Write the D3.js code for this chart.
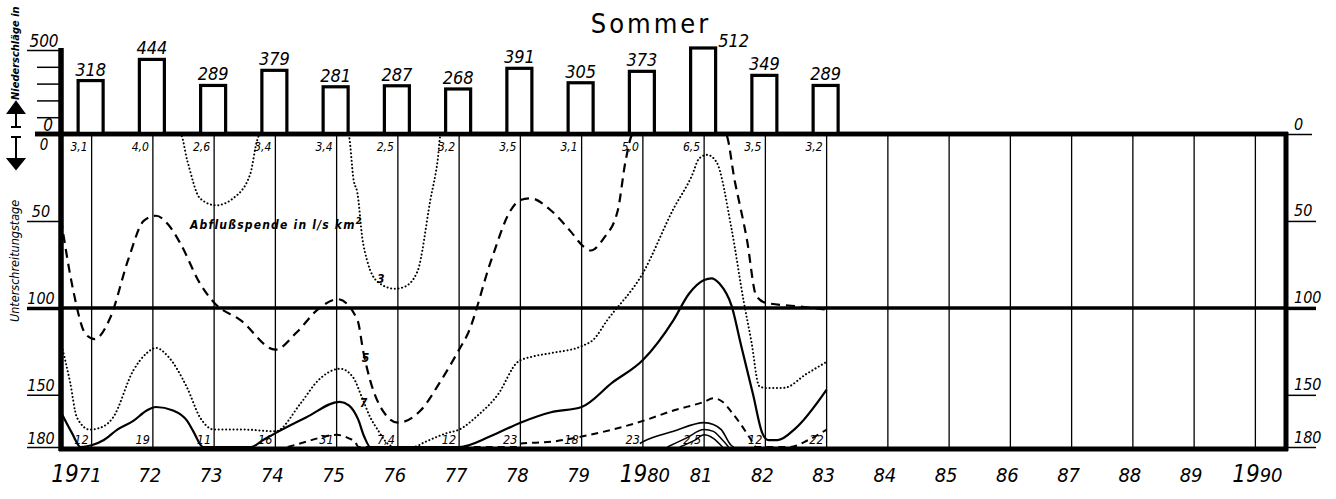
<!DOCTYPE html>
<html><head><meta charset="utf-8">
<script src="https://cdn.jsdelivr.net/npm/d3@7"></script>
<style>
body{margin:0;background:#fff;}
svg{display:block;background:#fff;}
text{font-family:"DejaVu Sans Condensed","DejaVu Sans",sans-serif;fill:#000;}
</style></head><body>
<svg id="c" width="1336" height="499"></svg>
<script>
// ---------- data ----------
const years = d3.range(1971, 1991);
const yearLabels = ["1971","72","73","74","75","76","77","78","79","1980","81","82","83","84","85","86","87","88","89","1990"];
const precipYears = [1971,1972,1973,1974,1975,1976,1977,1978,1979,1980,1981,1982,1983];
const precip = [318,444,289,379,281,287,268,391,305,373,512,349,289];
const meanFlow = ["3,1","4,0","2,6","3,4","3,4","2,5","3,2","3,5","3,1","5,0","6,5","3,5","3,2"];
const lowLabels = ["12","19","11","16","31","7,4","12","23","18","23","2,5","12","22"];
const precipTicks = [0,100,200,300,400,500];
const dayTicksLeft = [50,100,150,180];
const dayTicksRight = [0,50,100,150,180];
const curveNames = ["3","5","7"];

// days below threshold (Unterschreitungstage), [year, days]
const q3 = [[1970.5,0],[1972.45,0],[1972.56,15],[1972.77,37],[1973.03,41],[1973.31,37],[1973.59,23],[1973.7,4],[1973.75,0],
  [1975.19,0],[1975.28,27],[1975.34,34],[1975.42,60],[1975.5,73],[1975.67,85],[1975.95,89],[1976.1,88],[1976.32,79],[1976.53,38],[1976.65,15],[1976.7,0],[1983,0]];
const q5 = [[1970.5,49],[1970.7,90],[1970.9,115],[1971.05,118],[1971.3,106],[1971.6,72],[1971.85,50],[1972.05,47],[1972.25,52],[1972.45,63],[1972.77,86],[1973,97],
  [1973.43,107],[1974,124],[1974.35,114],[1974.69,101],[1975.02,95],[1975.34,107],[1975.44,126],[1975.55,142],[1975.77,160],[1976,166],[1976.37,159],[1976.7,142],
  [1977,124],[1977.14,115],[1977.52,73],[1977.84,44],[1978,38],[1978.17,37],[1978.5,44],[1978.82,56],[1979.04,65],[1979.15,67],[1979.36,60],[1979.59,44],[1979.72,15],
  [1979.84,0],[1981.35,0],[1981.5,27],[1981.7,61],[1981.85,93],[1982,97],[1982.5,99],[1983,101]];
const q7 = [[1970.5,120],[1970.65,143],[1970.76,163],[1970.97,170],[1971.2,168],[1971.35,163],[1971.68,136],[1971.9,126],[1972.05,123],[1972.25,128],[1972.56,146],
  [1972.77,163],[1973,170],[1973.5,170],[1974,171],[1974.41,155],[1974.69,142],[1975.06,135],[1975.27,140],[1975.42,152],[1975.55,163],[1975.67,170],[1975.83,178],
  [1975.95,180],[1976.25,180],[1976.45,177],[1976.8,172],[1977,170],[1977.3,162],[1977.63,150],[1977.96,131],[1978.2,128],[1978.5,126],[1979,122],[1979.2,118],
  [1979.4,108],[1980,80],[1980.5,43],[1980.8,24],[1980.92,14],[1981.05,12],[1981.2,16],[1981.45,55],[1981.65,97],[1981.77,119],[1981.9,145],[1982,146],[1982.3,146],
  [1982.67,138],[1983,131]];
const q10 = [[1970.5,160],[1970.68,172],[1970.82,180],[1971,179],[1971.2,176],[1971.42,170],[1971.68,165],[1971.9,159],[1972.05,157],[1972.33,159],[1972.56,165],
  [1972.66,171],[1972.82,180],[1973.6,180],[1973.8,176],[1974,172],[1974.5,163],[1975.05,154],[1975.2,156],[1975.35,164],[1975.45,174],[1975.55,180],[1977,180],
  [1977.5,174],[1978,166],[1978.5,160],[1979,157],[1979.5,143],[1980,130],[1980.5,107],[1980.75,92],[1981,84],[1981.12,83],[1981.25,86],[1981.45,99],[1981.6,121],
  [1981.8,150],[1981.95,172],[1982.05,176],[1982.2,176],[1982.5,169],[1983,147]];
const q15 = [[1974.2,180],[1974.5,177],[1974.69,175],[1975,173],[1975.2,175],[1975.3,177],[1975.36,180],[1977.95,180],[1978,178],[1978.5,177],[1979,174],
  [1979.5,170],[1980,165],[1980.5,159],[1981,154],[1981.15,152],[1981.3,154],[1981.45,160],[1981.6,167],[1981.75,175],[1981.85,180],[1982.4,180],[1982.7,176],[1983,170]];
const q20 = [[1979.95,178],[1980,177],[1980.5,171],[1981,166],[1981.15,167],[1981.28,170],[1981.44,179],[1981.48,180]];
const q25 = [[1980.4,180],[1980.7,175],[1981,170],[1981.15,171],[1981.3,176],[1981.4,180]];
const q30 = [[1980.6,180],[1980.85,176],[1981,173],[1981.15,175],[1981.3,180]];

// ---------- scales ----------
const svg = d3.select("#c");
const x = d3.scaleLinear().domain([1970.5, 1990.5]).range([61, 1286]);
const yD = d3.scaleLinear().domain([0, 180]).range([134, 447]);
const yP = d3.scaleLinear().domain([0, 500]).range([134, 50]);
const X0 = x(1970.5), X1 = x(1990.5);

// grid verticals
svg.append("g").selectAll("line").data(years).join("line")
  .attr("x1", d => x(d)).attr("x2", d => x(d))
  .attr("y1", yD(0)).attr("y2", yD(180) + 2)
  .attr("stroke", "#000").attr("stroke-width", 1.3);

// 100-day reference line
svg.append("line").attr("x1", X0).attr("x2", X1).attr("y1", yD(100)).attr("y2", yD(100))
  .attr("stroke", "#000").attr("stroke-width", 3.5);

// curves
const line = d3.line().x(d => x(d[0])).y(d => yD(d[1])).curve(d3.curveMonotoneX);
const curves = [
  {d: q3, w: 2, dash: "0.1,3.6", cap: "round"},
  {d: q5, w: 2.2, dash: "9,6", cap: "butt"},
  {d: q7, w: 2, dash: "0.1,3.6", cap: "round"},
  {d: q10, w: 2.2, dash: null, cap: "butt"},
  {d: q15, w: 2, dash: "7,5", cap: "butt"},
  {d: q20, w: 1.6, dash: null, cap: "butt"},
  {d: q25, w: 1.5, dash: null, cap: "butt"},
  {d: q30, w: 1.5, dash: null, cap: "butt"}
];
svg.append("g").selectAll("path").data(curves).join("path")
  .attr("d", c => line(c.d)).attr("fill", "none").attr("stroke", "#000")
  .attr("stroke-width", c => c.w).attr("stroke-dasharray", c => c.dash)
  .attr("stroke-linecap", c => c.cap);

// curve labels
const curveLabelPos = [[1975.72, 83], [1975.47, 128], [1975.44, 154]];
svg.append("g").selectAll("text").data(curveNames).join("text")
  .attr("x", (d, i) => x(curveLabelPos[i][0])).attr("y", (d, i) => yD(curveLabelPos[i][1]) + 5)
  .attr("text-anchor", "middle").attr("font-size", 12).attr("font-weight", "bold").attr("font-style", "italic")
  .text(d => d);

svg.append("text").attr("x", 190).attr("y", 229).attr("font-size", 12).attr("font-weight", "bold")
  .attr("font-style", "italic").attr("letter-spacing", 1.2)
  .text("Abflußspende in l/s km").append("tspan").attr("dy", -5).attr("font-size", 9).text("2");

// frame lines (thick)
svg.append("line").attr("x1", 35).attr("x2", X1 + 2).attr("y1", yD(0)).attr("y2", yD(0)).attr("stroke", "#000").attr("stroke-width", 4.5);
svg.append("line").attr("x1", X0 - 2).attr("x2", X1 + 2).attr("y1", yD(180) + 2).attr("y2", yD(180) + 2).attr("stroke", "#000").attr("stroke-width", 5);
svg.append("line").attr("x1", X0).attr("x2", X0).attr("y1", yP(500) - 2).attr("y2", yD(180) + 4).attr("stroke", "#000").attr("stroke-width", 5.5);
svg.append("line").attr("x1", X1).attr("x2", X1).attr("y1", yD(0) - 2).attr("y2", yD(180) + 4).attr("stroke", "#000").attr("stroke-width", 5);

// left lower axis
const gL = svg.append("g").attr("transform", `translate(${X0},0)`)
  .call(d3.axisLeft(yD).tickValues(dayTicksLeft).tickSize(34).tickFormat(d3.format("d")));
gL.attr("font-family", null).attr("font-size", null);
gL.select(".domain").remove();
gL.selectAll(".tick line").attr("stroke", "#000").attr("stroke-width", d => d === 100 ? 3.5 : 1.5);
gL.selectAll(".tick text").attr("x", -20).attr("dy", -4).attr("text-anchor", "middle")
  .attr("font-size", 16).attr("font-style", "italic").attr("fill", "#000");
svg.append("text").attr("x", 44).attr("y", 150).attr("text-anchor", "middle").attr("font-size", 15).attr("font-style", "italic").text("0");

// upper precipitation axis
const gP = svg.append("g").attr("transform", `translate(${X0},0)`)
  .call(d3.axisLeft(yP).tickValues(precipTicks).tickSize(24).tickFormat(d => (d === 0 || d === 500) ? d : ""));
gP.attr("font-family", null).attr("font-size", null);
gP.select(".domain").remove();
gP.selectAll(".tick line").attr("stroke", "#000").attr("stroke-width", 1.5)
  .attr("x2", d => d === 500 ? -34 : (d === 0 ? -26 : -24));
gP.selectAll(".tick text").attr("x", d => d === 500 ? -17 : -13).attr("dy", -4).attr("text-anchor", "middle")
  .attr("font-size", 17).attr("font-style", "italic").attr("fill", "#000");

// right axis
const gR = svg.append("g").attr("transform", `translate(${X1},0)`)
  .call(d3.axisRight(yD).tickValues(dayTicksRight).tickSize(30).tickFormat(d3.format("d")));
gR.attr("font-family", null).attr("font-size", null);
gR.select(".domain").remove();
gR.selectAll(".tick line").attr("stroke", "#000").attr("stroke-width", d => d === 100 ? 3.5 : 1.5)
  .attr("x2", d => d === 0 ? 26 : 30);
gR.selectAll(".tick text").attr("x", 8).attr("dy", -5).attr("text-anchor", "start")
  .attr("font-size", 16).attr("font-style", "italic").attr("fill", "#000");

// precipitation bars
const bw = 25;
svg.append("g").selectAll("rect").data(precip).join("rect")
  .attr("x", (d, i) => x(precipYears[i]) - bw / 2 - 1).attr("width", bw)
  .attr("y", d => yP(d)).attr("height", d => yP(0) - yP(d))
  .attr("fill", "#fff").attr("stroke", "#000").attr("stroke-width", 3.2);
svg.append("line").attr("x1", 35).attr("x2", X1 + 2).attr("y1", yD(0)).attr("y2", yD(0)).attr("stroke", "#000").attr("stroke-width", 4.5);
svg.append("g").selectAll("text").data(precip).join("text")
  .attr("x", (d, i) => d > 500 ? x(precipYears[i]) + 14 : x(precipYears[i]) - 1)
  .attr("y", d => d > 500 ? yP(d) - 1 : yP(d) - 5)
  .attr("text-anchor", d => d > 500 ? "start" : "middle")
  .attr("font-size", 18).attr("font-style", "italic").text(d => d);

// mean flow labels under top line
svg.append("g").selectAll("text").data(meanFlow).join("text")
  .attr("x", (d, i) => x(precipYears[i]) - 4).attr("y", 151)
  .attr("text-anchor", "end").attr("font-size", 12).attr("font-style", "italic").text(d => d);

// low labels near bottom
svg.append("g").selectAll("text").data(lowLabels).join("text")
  .attr("x", (d, i) => x(precipYears[i]) - 3).attr("y", 444)
  .attr("text-anchor", "end").attr("font-size", 12.5).attr("font-style", "italic").text(d => d);

// year axis labels
const yl = svg.append("g").selectAll("text").data(years).join("text")
  .attr("x", (d, i) => yearLabels[i].length === 4 ? (d === 1971 ? x(d) + 10 : x(d) + 2) : x(d) - 3)
  .attr("y", 482)
  .attr("text-anchor", (d, i) => yearLabels[i].length === 4 && d === 1971 ? "end" : "middle")
  .attr("font-size", 20).attr("font-style", "italic");
yl.each(function(d, i) {
  const t = d3.select(this), lab = yearLabels[i];
  if (lab.length === 4) {
    t.append("tspan").attr("font-size", 24).text(lab.slice(0, 2));
    t.append("tspan").text(lab.slice(2));
  } else t.text(lab);
});

// title
svg.append("text").attr("x", 651).attr("y", 33).attr("text-anchor", "middle")
  .attr("font-family", "DejaVu Sans").attr("font-size", 27).attr("letter-spacing", 3).text("Sommer");

// rotated axis titles
svg.append("text").attr("transform", "translate(19,100) rotate(-90)").attr("font-size", 11)
  .attr("font-style", "italic").attr("font-weight", "bold").text("Niederschläge in");
svg.append("text").attr("transform", "translate(19,322) rotate(-90)").attr("font-size", 12.5)
  .attr("font-style", "italic").text("Unterschreitungstage");

// arrows
const ar = svg.append("g").attr("stroke", "#000").attr("stroke-width", 2).attr("fill", "#000");
ar.append("path").attr("d", "M8,113 L24,113 L16,102 Z");
ar.append("line").attr("x1", 16).attr("x2", 16).attr("y1", 113).attr("y2", 127);
ar.append("line").attr("x1", 11).attr("x2", 21).attr("y1", 127).attr("y2", 127);
ar.append("line").attr("x1", 11).attr("x2", 21).attr("y1", 137).attr("y2", 137);
ar.append("line").attr("x1", 16).attr("x2", 16).attr("y1", 137).attr("y2", 159);
ar.append("path").attr("d", "M8,159 L24,159 L16,169 Z");
</script>
</body></html>
